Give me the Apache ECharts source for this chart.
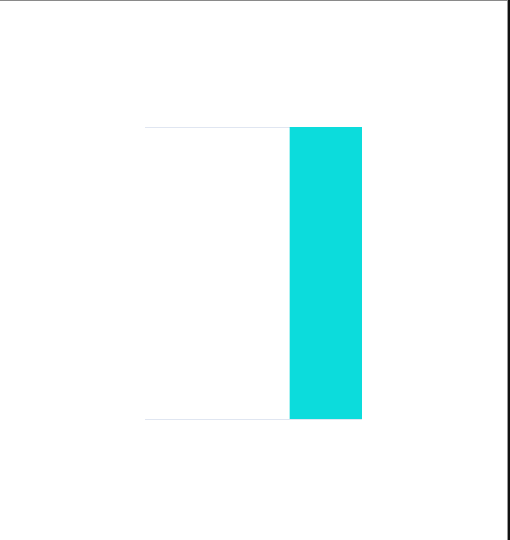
<!DOCTYPE html>
<html>
<head>
<meta charset="utf-8">
<script src="https://cdn.jsdelivr.net/npm/echarts@6/dist/echarts.min.js"></script>
<style>
  html, body { margin: 0; padding: 0; background: #fff; }
  #box { position: absolute; left: 0; top: 0; width: 510px; height: 540px; }
  #frame {
    position: absolute; left: 0; top: 0; width: 507px; height: 539px;
    border-top: 1px solid #8a8a8a; border-right: 1px solid #9a9a9a;
    pointer-events: none;
  }
  #frame2 {
    position: absolute; left: 508px; top: 0; width: 2px; height: 540px;
    background: #111;
  }
</style>
</head>
<body>
<div id="box"></div>
<div id="frame"></div>
<div id="frame2"></div>
<script>
// categories and values
const categories = ["A", "B", "C"];
const values = [0, 0, 1];

let myChart = echarts.init(document.getElementById("box"));
myChart.setOption({
  animation: false,
  grid: {
    left: 145,
    right: 148,
    top: 127,
    bottom: 121,
  },
  xAxis: {
    type: "category",
    data: categories,
    axisLine: { show: false },
    axisTick: { show: false },
    axisLabel: { show: false },
  },
  yAxis: {
    type: "value",
    min: 0,
    max: 1,
    interval: 1,
    axisLabel: { show: false },
    splitLine: { lineStyle: { color: "#E0E6F1" } },
  },
  series: [
    {
      type: "bar",
      data: values,
      barCategoryGap: "0%",
      itemStyle: { color: "#0cdcdc" },
    },
  ],
});
</script>
</body>
</html>
